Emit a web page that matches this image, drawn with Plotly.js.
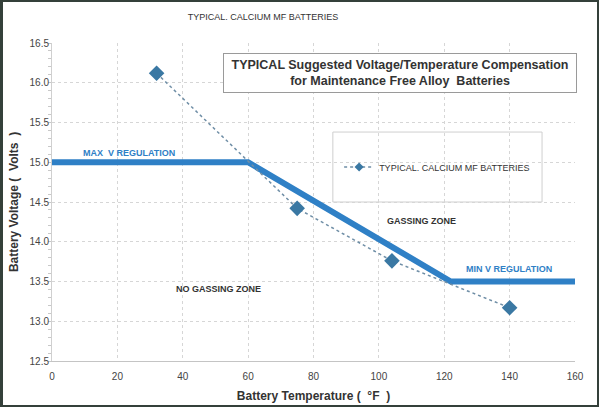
<!DOCTYPE html>
<html>
<head>
<meta charset="utf-8">
<script src="https://cdn.plot.ly/plotly-3.0.1.min.js"></script>
<style>
  html, body { margin: 0; padding: 0; background: #fff; }
  #wrap { position: relative; width: 599px; height: 407px; }
  #chart { width: 599px; height: 407px; }
  #frame { position: absolute; left: 0; top: 0; width: 599px; height: 407px;
           box-sizing: border-box; border: 2px solid #34403a; border-left-width: 3px;
           pointer-events: none; }
</style>
</head>
<body>
<div id="wrap">
  <div id="chart"></div>
  <div id="frame"></div>
</div>
<script>
// Measured battery voltages (typical calcium MF batteries)
const tempF = [32, 75, 104, 140];
const voltsTypical = [16.12, 14.42, 13.76, 13.17];

// Recommended regulation envelope
const regTemp = [0, 60, 122, 160];
const regVolts = [15.0, 15.0, 13.5, 13.5];

// Axis tick values
const xTicks = [0, 20, 40, 60, 80, 100, 120, 140, 160];
const yTicks = [12.5, 13.0, 13.5, 14.0, 14.5, 15.0, 15.5, 16.0, 16.5];

const SERIES_NAME = 'TYPICAL. CALCIUM MF BATTERIES';
const FONT = 'Liberation Sans, Arial, sans-serif';

const lineStyle = { color: '#6f8ea6', width: 1.5, dash: 'dot' };
const markerColor = '#3a78a3';

const traces = [
  {
    x: regTemp, y: regVolts, mode: 'lines', showlegend: false,
    line: { color: '#2f80c6', width: 6 }, hoverinfo: 'skip'
  },
  {
    x: tempF, y: voltsTypical, mode: 'lines+markers', showlegend: false,
    name: SERIES_NAME, line: lineStyle,
    marker: { symbol: 'diamond', size: 12, color: markerColor }
  },
  // legend entry with a smaller key symbol
  {
    x: [null], y: [null], mode: 'lines+markers', name: SERIES_NAME,
    line: lineStyle, marker: { symbol: 'diamond', size: 7, color: markerColor }
  }
];

const gridStyle = { gridcolor: '#d6d6d6', griddash: '3px,3px', gridwidth: 1 };

const layout = {
  width: 599, height: 407,
  margin: { l: 52, r: 24, t: 43, b: 46 },
  paper_bgcolor: '#ffffff', plot_bgcolor: '#ffffff',
  font: { family: FONT, color: '#333' },
  title: {
    text: 'TYPICAL. CALCIUM MF BATTERIES',
    font: { size: 9, color: '#333', family: FONT },
    xref: 'container', x: 0.439, xanchor: 'center', y: 0.958, yanchor: 'middle'
  },
  xaxis: Object.assign({
    range: [0, 160], tickvals: xTicks, ticktext: xTicks.map(String),
    showline: true, linecolor: '#c4c4c4', linewidth: 1, zeroline: false,
    ticks: '', ticklabelstandoff: 6, tickfont: { size: 10, color: '#444' },
    title: { text: 'Battery Temperature (  °F  )', font: { size: 12, color: '#333', family: FONT, weight: 'bold' }, standoff: 10 }
  }, gridStyle),
  yaxis: Object.assign({
    range: [12.5, 16.5], tickvals: yTicks, ticktext: yTicks.map(v => v.toFixed(1)),
    showline: true, linecolor: '#d0d0d0', linewidth: 1, zeroline: false,
    ticks: '', tickfont: { size: 10, color: '#444' },
    minor: { dtick: 0.1, ticks: 'outside', ticklen: 3, tickcolor: '#c8c8c8', showgrid: false },
    title: { text: 'Battery Voltage (  Volts  )', font: { size: 12, color: '#333', family: FONT, weight: 'bold' }, standoff: 8 }
  }, gridStyle),
  showlegend: true,
  legend: {
    x: 0.549, xanchor: 'left', y: 0.61, yanchor: 'middle',
    bgcolor: 'rgba(0,0,0,0)', borderwidth: 0,
    font: { size: 9, color: '#333', family: FONT }
  },
  shapes: [
    {
      type: 'rect', xref: 'paper', yref: 'paper',
      x0: 0.537, x1: 0.937, y0: 0.50, y1: 0.72,
      line: { color: '#cfcfcf', width: 1 }, fillcolor: '#ffffff', layer: 'below'
    }
  ],
  annotations: [
    {
      xref: 'paper', yref: 'paper', x: 0.666, y: 0.907,
      xanchor: 'center', yanchor: 'middle',
      text: '<b>TYPICAL Suggested Voltage/Temperature Compensation<br>for Maintenance Free Alloy  Batteries</b>',
      showarrow: false, align: 'center',
      font: { size: 12.5, color: '#333', family: FONT },
      bgcolor: '#ffffff', bordercolor: '#9a9a9a', borderwidth: 1,
      width: 350, height: 36
    },
    {
      x: 23.5, y: 15.12, text: '<b>MAX  V REGULATION</b>', showarrow: false,
      font: { size: 9, color: '#2f80c6', family: FONT }
    },
    {
      x: 113, y: 14.26, text: '<b>GASSING ZONE</b>', showarrow: false,
      font: { size: 9, color: '#333', family: FONT }
    },
    {
      x: 139.8, y: 13.66, text: '<b>MIN V REGULATION</b>', showarrow: false,
      font: { size: 9, color: '#2f80c6', family: FONT }
    },
    {
      x: 50.8, y: 13.41, text: '<b>NO GASSING ZONE</b>', showarrow: false,
      font: { size: 9, color: '#333', family: FONT }
    }
  ]
};

Plotly.newPlot('chart', traces, layout, { displayModeBar: false, staticPlot: true });
</script>
</body>
</html>
